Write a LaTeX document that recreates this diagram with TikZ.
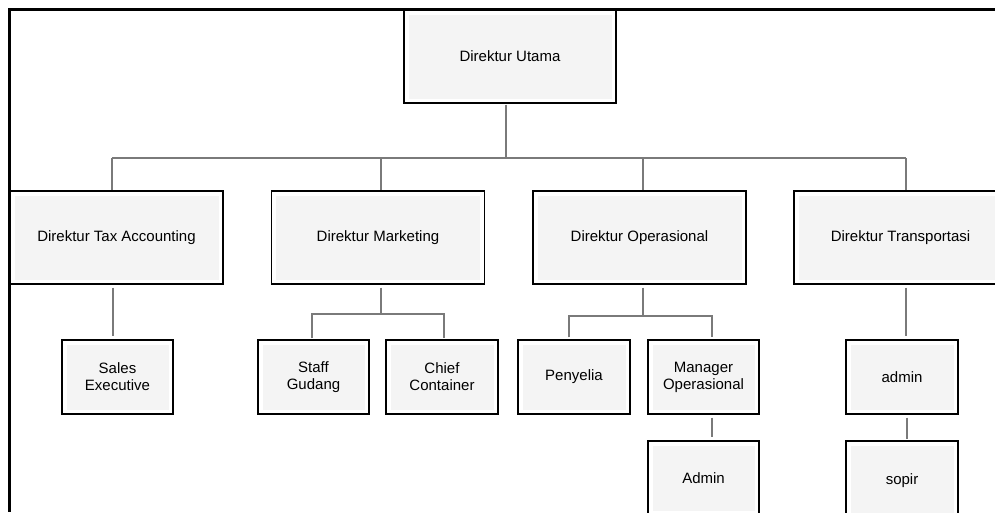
\documentclass[tikz,border=0pt]{standalone}
\usepackage{fontspec}
\setmainfont{Liberation Sans}
\definecolor{boxfill}{HTML}{F4F4F4}
\definecolor{linegray}{HTML}{7A7A7A}
\begin{document}
\begin{tikzpicture}[x=1pt,y=-1pt,
  box/.style={draw=black, line width=1.1pt, fill=boxfill, inner sep=0pt, align=center,
    font=\fontsize{15}{17}\selectfont,
    path picture={\draw[white,line width=9pt] (path picture bounding box.south west) rectangle (path picture bounding box.north east);}},
  headbox/.style={box, minimum width=213pt, minimum height=93pt},
  unitbox/.style={box, minimum width=111pt, minimum height=74pt},
  conn/.style={draw=linegray, line width=1.5pt},
  frame/.style={draw=black, line width=3pt},
]
\useasboundingbox (0,0) rectangle (995,512);
\clip (0,0) rectangle (995,512);

% top level
\node[headbox, minimum width=212pt] (utama) at (510,56.5) {Direktur Utama};

% directors
\node[headbox] (tax)   at (116.5,237.5) {Direktur Tax Accounting};
\node[headbox] (mkt)   at (378,237.5)   {Direktur Marketing};
\node[headbox] (ops)   at (639.5,237.5) {Direktur Operasional};
\node[headbox] (trans) at (900.5,237.5) {Direktur Transportasi};

% staff units
\node[unitbox] (sales) at (117.5,377) {Sales\\Executive};
\node[unitbox] (staff) at (313.5,377) {Staff\\Gudang};
\node[unitbox, minimum width=112pt] (chief) at (442,377) {Chief\\Container};
\node[unitbox, minimum width=112pt] (peny)  at (574,377) {Penyelia};
\node[unitbox] (mgr)   at (703.5,377) {Manager\\Operasional};
\node[unitbox, minimum width=112pt] (admt)  at (902,377) {admin};
\node[unitbox] (admin) at (703.5,478) {Admin};
\node[unitbox, minimum width=112pt, minimum height=80pt] (sopir) at (902,481) {sopir};

% bus below the top level
\coordinate (b0) at (506,158);
\coordinate (b1) at (112,158);
\coordinate (b2) at (381,158);
\coordinate (b3) at (643,158);
\coordinate (b4) at (906,158);
\draw[conn, shorten <=1pt] (utama.south -| b0) -- (b0);
\draw[conn] (b1) -- (b4);
\foreach \b/\n in {b1/tax, b2/mkt, b3/ops, b4/trans}
  \draw[conn] (\b) -- (\b |- \n.north);

% Tax Accounting branch
\coordinate (t0) at (113,300);
\draw[conn, shorten <=3pt, shorten >=3pt] (tax.south -| t0) -- (sales.north -| t0);

% Marketing branch
\coordinate (m0) at (381,314);
\coordinate (mL) at (312,314);
\coordinate (mR) at (444,314);
\draw[conn, shorten <=3pt] (mkt.south -| m0) -- (m0);
\draw[conn, shorten <=1pt, shorten >=1pt] (staff.north -| mL) |- (mR) -- (chief.north -| mR);

% Operasional branch
\coordinate (o0) at (643,316);
\coordinate (oL) at (569,316);
\coordinate (oR) at (712,316);
\draw[conn, shorten <=3pt] (ops.south -| o0) -- (o0);
\draw[conn, shorten <=2pt, shorten >=2pt] (peny.north -| oL) |- (oR) -- (mgr.north -| oR);
\draw[conn, shorten <=3pt, shorten >=3pt] (mgr.south -| oR) -- (admin.north -| oR);

% Transportasi branch
\coordinate (r0) at (906,300);
\coordinate (r1) at (907,430);
\draw[conn, shorten <=3pt, shorten >=3pt] (trans.south -| r0) -- (admt.north -| r0);
\draw[conn, shorten <=3pt, shorten >=1pt] (admt.south -| r1) -- (sopir.north -| r1);

% page frame
\draw[frame] (995,9) -- (9,9) -- (9,512);
\end{tikzpicture}
\end{document}
